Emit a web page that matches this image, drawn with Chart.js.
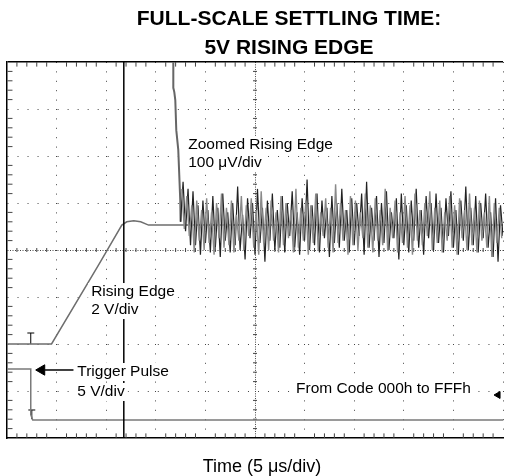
<!DOCTYPE html>
<html>
<head>
<meta charset="utf-8">
<script src="https://cdn.jsdelivr.net/npm/chart.js@4.4.1/dist/chart.umd.min.js"></script>
<style>
  html, body { margin: 0; padding: 0; background: #fff; }
  canvas { display: block; }
</style>
</head>
<body>
<canvas id="grafico" width="510" height="476"></canvas>
<script>
// Valores em divisões do osciloscópio (x: 0..10, y: 0..8)
const divX = [0, 1, 2, 3, 4, 5, 6, 7, 8, 9, 10];
const divY = [0, 1, 2, 3, 4, 5, 6, 7, 8];

// cursor vertical (linha preta)
const cursorX = [2.355, 2.355];
const cursorY = [0, 8];

// "Zoomed Rising Edge": descida quase vertical antes do ruído
const bordaZoomX = [3.353, 3.353, 3.373, 3.393, 3.413, 3.453, 3.473, 3.493, 3.50];
const bordaZoomY = [8.0, 7.45, 7.36, 7.19, 6.55, 6.13, 5.60, 5.06, 4.60];

// ruído do traço ampliado, parte escura (amostras a cada 0.05 div a partir de 3.5)
const ruidoInicio = 3.5;
const ruidoPasso = 0.05;
const ruidoY = [
  4.60, 5.45, 4.40, 5.30, 4.10, 5.25, 4.10, 4.95, 3.90, 5.05,
  4.15, 4.85, 3.95, 5.15, 4.05, 4.90, 3.85, 5.20, 4.20, 4.80,
  3.95, 5.00, 4.10, 5.35, 4.00, 4.75, 3.80, 5.10, 4.25, 5.00,
  3.90, 5.30, 4.15, 4.90, 3.75, 5.05, 4.20, 5.20, 4.00, 4.85,
  4.05, 5.15, 3.95, 5.00, 4.30, 5.25, 4.05, 4.80, 3.90, 5.10,
  4.20, 5.50, 4.00, 4.95, 4.10, 5.20, 3.95, 5.05, 4.25, 4.90,
  3.85, 5.15, 4.15, 5.00, 4.05, 5.30, 4.20, 4.85, 3.95, 5.10,
  4.10, 5.00, 4.30, 5.20, 3.90, 5.45, 4.05, 4.90, 4.20, 5.15,
  3.85, 5.00, 4.15, 5.25, 4.00, 4.80, 4.25, 5.10, 3.80, 5.20,
  4.10, 4.95, 3.95, 5.05, 4.20, 5.30, 4.05, 4.85, 3.90, 5.15,
  4.25, 5.00, 4.00, 5.20, 4.15, 4.90, 3.95, 5.10, 4.30, 5.25,
  4.05, 4.85, 3.90, 5.05, 4.20, 5.35, 4.00, 4.90, 4.10, 5.15,
  3.95, 5.00, 4.25, 5.20, 4.05, 4.80, 3.85, 5.10, 3.75, 4.95,
  4.30
];

// ruído, parte cinza (intercalada, a partir de 3.525)
const ruidoCinzaInicio = 3.525;
const ruidoCinzaY = [
  5.30, 4.45, 5.15, 4.30, 4.95, 3.95, 5.05, 4.20, 4.85, 4.00,
  5.10, 4.15, 4.80, 3.90, 5.00, 4.25, 5.20, 4.05, 4.90, 4.10,
  5.05, 3.95, 4.75, 4.20, 5.15, 4.00, 4.95, 4.30, 5.10, 4.05,
  4.85, 3.90, 5.25, 4.15, 4.90, 4.00, 5.05, 4.20, 4.80, 3.95,
  5.15, 4.10, 5.00, 4.25, 4.85, 3.95, 5.30, 4.05, 4.90, 4.20,
  5.05, 3.90, 4.95, 4.15, 5.20, 4.00, 4.80, 4.30, 5.10, 4.05,
  4.90, 3.95, 5.40, 4.15, 5.00, 4.20, 4.85, 3.90, 5.15, 4.10,
  5.05, 4.00, 4.80, 4.25, 5.20, 4.05, 4.95, 3.95, 5.10, 4.20,
  4.85, 4.10, 5.30, 4.00, 4.90, 4.25, 5.05, 3.95, 4.80, 4.15,
  5.15, 4.05, 4.95, 3.90, 5.20, 4.20, 4.85, 4.10, 5.00, 4.30,
  5.25, 4.00, 4.90, 4.15, 5.05, 3.95, 4.80, 4.20, 5.15, 4.05,
  4.95, 3.90, 5.10, 4.25, 4.85, 4.00, 5.20, 4.10, 4.90, 3.95,
  5.05, 4.20, 4.80, 4.05, 5.15, 3.85, 5.00, 4.15, 4.90, 4.25
];

// "Rising Edge" 2 V/div
const subidaX = [0, 0.898, 1.856, 2.315, 2.415, 2.555, 2.695, 2.854, 10];
const subidaY = [2.0, 2.0, 3.70, 4.53, 4.60, 4.62, 4.60, 4.53, 4.53];

// "Trigger Pulse" 5 V/div
const pulsoX = [0, 0.479, 0.479, 0.519, 10];
const pulsoY = [1.468, 1.468, 0.50, 0.383, 0.383];

// seta do rótulo do pulso
const setaX = [0.76, 1.34];
const setaY = [1.447, 1.447];

const titulo = ["FULL-SCALE SETTLING TIME:", "5V RISING EDGE"];
const tituloEixoX = "Time (5 μs/div)";

// rótulos dentro da tela (posição em divisões, canto esquerdo / meio)
const rotulos = [
  { texto: "Zoomed Rising Edge", x: 3.653, y: 6.234 },
  { texto: "100 μV/div", x: 3.653, y: 5.851 },
  { texto: "Rising Edge", x: 1.697, y: 3.106 },
  { texto: "2 V/div", x: 1.697, y: 2.723 },
  { texto: "Trigger Pulse", x: 1.417, y: 1.404 },
  { texto: "5 V/div", x: 1.417, y: 0.979 },
  { texto: "From Code 000h to FFFh", x: 5.828, y: 1.043 }
];

const fonte = '"Liberation Sans", Arial, sans-serif';

// pares {x, y} a partir de duas listas
function pares(xs, ys) {
  return xs.map((v, i) => ({ x: v, y: ys[i] }));
}

// subdivisões (5 por divisão), sem as principais
function menores(lista) {
  const out = [];
  for (let i = 0; i < lista.length - 1; i++) {
    [0.2, 0.4, 0.6, 0.8].forEach(f => out.push(lista[i] + f));
  }
  return out;
}

const ruido = ruidoY.map((v, i) => ({ x: ruidoInicio + i * ruidoPasso, y: v }));
const ruidoCinza = ruidoCinzaY.map((v, i) => ({ x: ruidoCinzaInicio + i * ruidoPasso, y: v }));

const menoresX = menores(divX);
const menoresY = menores(divY);

function marcas(dados, rot, raio) {
  return {
    data: dados,
    showLine: false,
    pointStyle: "line",
    pointRotation: rot,
    pointRadius: raio,
    pointBorderColor: "#444",
    pointBorderWidth: 1
  };
}

function linha(dados, cor, larg) {
  return {
    data: dados,
    showLine: true,
    borderColor: cor,
    borderWidth: larg,
    pointRadius: 0,
    tension: 0
  };
}

const pluginTextos = {
  id: "textos",
  afterDatasetsDraw(chart) {
    const { ctx, scales: { x, y } } = chart;
    ctx.save();
    ctx.font = "15.5px " + fonte;
    ctx.textBaseline = "middle";
    ctx.textAlign = "left";
    rotulos.forEach(r => {
      const px = x.getPixelForValue(r.x);
      const py = y.getPixelForValue(r.y);
      const w = ctx.measureText(r.texto).width;
      ctx.fillStyle = "#fff";
      ctx.fillRect(px - 3, py - 9, w + 6, 18);
      ctx.fillStyle = "#000";
      ctx.fillText(r.texto, px, py);
    });
    // título do eixo de tempo
    ctx.font = "18px " + fonte;
    ctx.textAlign = "center";
    ctx.fillText(tituloEixoX, 262, 467);
    // título em duas linhas
    ctx.font = "bold 21px " + fonte;
    titulo.forEach((t, i) => ctx.fillText(t, 289, 19 + i * 29));
    ctx.restore();
  }
};

new Chart(document.getElementById("grafico"), {
  type: "scatter",
  data: {
    datasets: [
      linha(pares(cursorX, cursorY), "#000", 1.5),
      linha(ruidoCinza, "#8a8a8a", 1.4),
      linha(ruido, "#222", 1.2),
      linha(pares(bordaZoomX, bordaZoomY), "#666", 2),
      linha(pares(subidaX, subidaY), "#6e6e6e", 1.5),
      linha(pares(pulsoX, pulsoY), "#7a7a7a", 1.5),
      linha(pares(setaX, setaY), "#000", 1.5),
      {
        data: [{ x: 0.70, y: 1.447 }, { x: 9.90, y: 0.915 }],
        showLine: false,
        pointStyle: "triangle",
        pointRotation: -90,
        pointRadius: [6, 4],
        pointBackgroundColor: "#000",
        pointBorderColor: "#000",
        pointBorderWidth: 1
      },
      // marcadores de terra
      linha([{ x: 0.479, y: 2.0 }, { x: 0.479, y: 2.234 }], "#000", 1),
      linha([{ x: 0.41, y: 2.234 }, { x: 0.55, y: 2.234 }], "#000", 1),
      linha([{ x: 0.50, y: 0.40 }, { x: 0.50, y: 0.596 }], "#000", 1),
      linha([{ x: 0.43, y: 0.596 }, { x: 0.57, y: 0.596 }], "#000", 1),
      // subdivisões nas bordas e no centro
      marcas(menoresY.map(v => ({ x: 0.06, y: v })), 0, 2.5),
      marcas(menoresX.map(v => ({ x: v, y: 7.955 })), 90, 2.5),
      marcas(menoresX.map(v => ({ x: v, y: 0.045 })), 90, 2.5),
      marcas(menoresX.map(v => ({ x: v, y: 4 })), 90, 2),
      marcas(menoresY.map(v => ({ x: 5, y: v })), 0, 2)
    ]
  },
  options: {
    responsive: false,
    animation: false,
    devicePixelRatio: 1,
    layout: { padding: { left: 7, right: 2, top: 62, bottom: 38 } },
    plugins: {
      legend: { display: false },
      tooltip: { enabled: false },
      title: { display: false }
    },
    scales: {
      x: {
        type: "linear",
        min: 0,
        max: 10,
        ticks: { display: false, stepSize: 1 },
        grid: {
          drawTicks: false,
          lineWidth: 1,
          color: c => (c.tick && c.tick.value === 0) ? "rgba(0,0,0,0)" : "#444"
        },
        border: {
          display: true,
          color: "#000",
          width: 1.5,
          dash: c => (c.tick && c.tick.value === 5) ? [1, 1.35] : [1, 8.4]
        }
      },
      y: {
        type: "linear",
        min: 0,
        max: 8,
        ticks: { display: false, stepSize: 1 },
        grid: {
          drawTicks: false,
          lineWidth: c => (c.tick && c.tick.value === 8) ? 1.5 : 1,
          color: c => {
            if (!c.tick) return "#444";
            if (c.tick.value === 0) return "rgba(0,0,0,0)";
            return c.tick.value === 8 ? "#000" : "#444";
          }
        },
        border: {
          display: true,
          color: "#000",
          width: 1.5,
          dash: c => {
            if (!c.tick) return [];
            if (c.tick.value === 8) return [];
            return c.tick.value === 4 ? [1, 1.5] : [1, 9.02];
          }
        }
      }
    }
  },
  plugins: [pluginTextos]
});
</script>
</body>
</html>
